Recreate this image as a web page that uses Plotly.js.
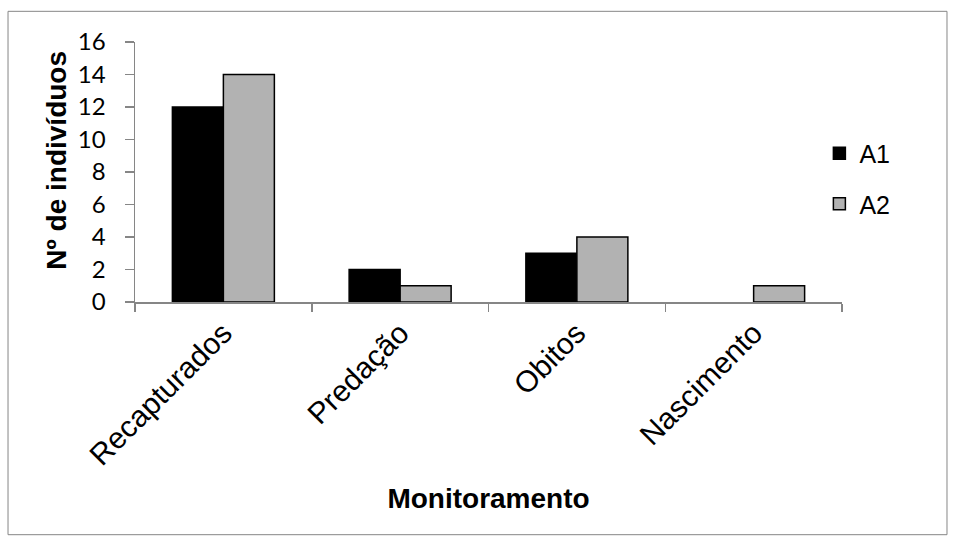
<!DOCTYPE html>
<html>
<head>
<meta charset="utf-8">
<script src="https://cdn.plot.ly/plotly-3.0.1.min.js"></script>
<style>
  html, body { margin: 0; padding: 0; background: #ffffff; }
  #chart { width: 955px; height: 543px; }
</style>
</head>
<body>
<div id="chart"></div>
<script>
const categories = ["Recapturados", "Predação", "Obitos", "Nascimento"];
const seriesNames = ["A1", "A2"];
const valuesA1 = [12, 2, 3, 0];
const valuesA2 = [14, 1, 4, 1];
const yTickValues = [0, 2, 4, 6, 8, 10, 12, 14, 16];

// a zero-height bar shows no outline in the reference
const outlineFor = vals => vals.map(v => (v === 0 ? 0 : 1.5));

const traces = [
  {
    type: "bar", name: seriesNames[0], x: categories, y: valuesA1,
    marker: { color: "#000000", line: { color: "#000000", width: outlineFor(valuesA1) } },
    legendgroup: "g1"
  },
  {
    type: "bar", name: seriesNames[1], x: categories, y: valuesA2,
    marker: { color: "#b2b2b2", line: { color: "#000000", width: outlineFor(valuesA2) } },
    legendgroup: "g2"
  }
];

const layout = {
  width: 955, height: 543,
  margin: { l: 135, r: 113, t: 42, b: 241 },
  paper_bgcolor: "#ffffff", plot_bgcolor: "#ffffff",
  barmode: "group", bargap: 0.423, bargroupgap: 0,
  font: { family: "Liberation Sans, Arial, sans-serif", color: "#000000" },
  xaxis: {
    type: "category",
    tickangle: -45,
    tickson: "boundaries",
    ticks: "outside", ticklen: 8, tickcolor: "#868686", tickwidth: 1.5,
    showline: true, linecolor: "#868686", linewidth: 1.5,
    showgrid: false, zeroline: false,
    tickfont: { size: 30, family: "Liberation Sans, Arial, sans-serif", color: "#000000" },
    title: { text: "<b>Monitoramento</b>", font: { size: 28, family: "Liberation Sans, Arial, sans-serif" }, standoff: 18 }
  },
  yaxis: {
    range: [0, 16],
    tickvals: yTickValues,
    ticks: "outside", ticklen: 9, tickcolor: "#868686", tickwidth: 1.5,
    ticklabelstandoff: 14,
    showline: true, linecolor: "#868686", linewidth: 1.5,
    showgrid: false, zeroline: false,
    tickfont: { size: 24, family: "Lato, Open Sans, sans-serif", color: "#000000" },
    title: { text: "&nbsp;&nbsp;&nbsp;<b>Nº de indivíduos</b>", font: { size: 28, family: "Liberation Sans, Arial, sans-serif" }, standoff: 3 }
  },
  showlegend: true,
  legend: {
    x: 0.968, y: 0.475, xanchor: "left", yanchor: "middle",
    font: { size: 25, family: "Liberation Sans, Arial, sans-serif" },
    traceorder: "grouped", tracegroupgap: 15,
    bgcolor: "rgba(0,0,0,0)", itemwidth: 30
  },
  shapes: [
    {
      type: "rect", xref: "paper", yref: "paper",
      x0: -0.1796, x1: 1.1485, y0: -0.895, y1: 1.118,
      line: { color: "#868686", width: 1 }, fillcolor: "rgba(0,0,0,0)", layer: "below"
    }
  ]
};

Plotly.newPlot("chart", traces, layout, { displayModeBar: false, staticPlot: true });
</script>
</body>
</html>
